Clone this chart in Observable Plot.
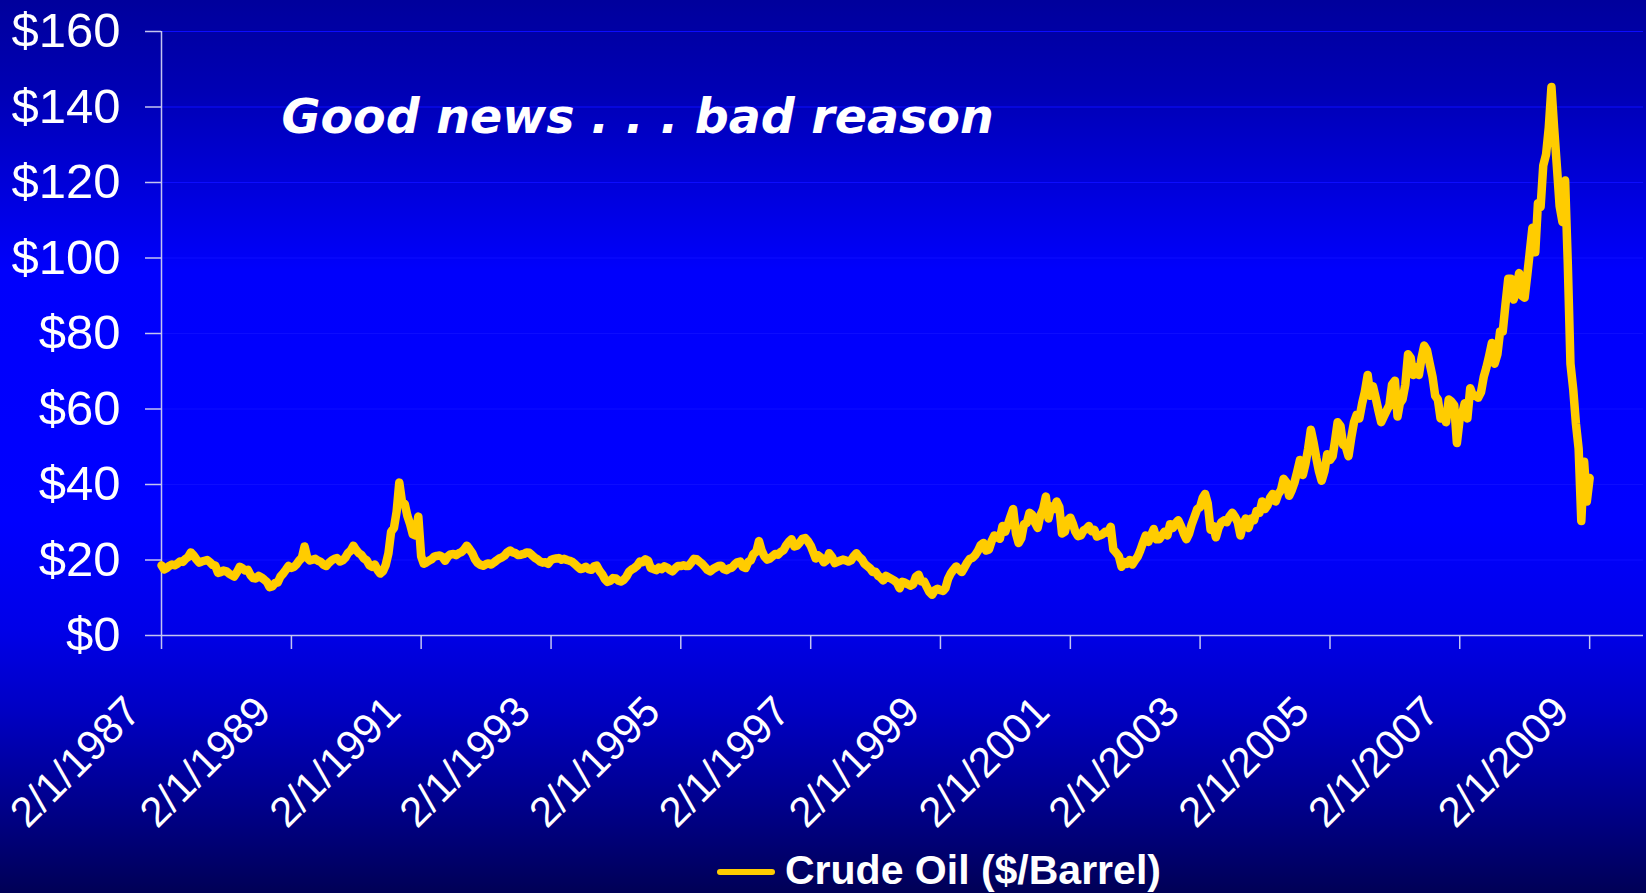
<!DOCTYPE html>
<html>
<head>
<meta charset="utf-8">
<script src="https://cdn.jsdelivr.net/npm/d3@7"></script>
<script src="https://cdn.jsdelivr.net/npm/@observablehq/plot@0.6"></script>
<style>
  html, body { margin: 0; padding: 0; }
  body {
    width: 1646px; height: 893px; overflow: hidden;
    background: linear-gradient(to bottom,
      #00009c 0px, #0000b4 90px, #0000dc 190px, #0000fc 270px,
      #0000ff 520px, #0000e8 630px, #0000c4 710px, #00008e 800px, #000056 893px);
  }
  #chart svg { display: block; }
  #legend { position: relative; width: 1646px; height: 48px; }
  #legend .swatch { position: absolute; left: 717px; top: 24px; width: 58px; height: 6px;
    background: #ffcc00; border-radius: 3px; }
  #legend .label { position: absolute; left: 785px; top: 5px; font: bold 41px/41px "Liberation Sans", Arial, sans-serif;
    color: #ffffff; white-space: nowrap; }
</style>
</head>
<body>
<div id="chart"></div>
<div id="legend"><div class="swatch"></div><div class="label"></div></div>
<script>
// Crude oil spot price, $/barrel, sampled on the 1st and 16th of each month
// starting 1 Feb 1987 and ending 1 Feb 2009.
const firstMonth = { year: 1987, month: 1 }; // February (0-based month)
const prices = [
  // 1987 (from Feb)
  18.6, 17.5, 17.8, 18.4, 18.8, 18.6, 19.0, 19.6, 19.5, 20.3, 20.8, 22.0, 21.2, 20.2, 19.3, 19.6, 19.8, 20.0, 19.4, 18.7, 18.5, 16.6,
  // 1988
  16.8, 17.2, 17.0, 16.4, 16.0, 15.6, 16.8, 18.2, 17.8, 17.2, 17.4, 16.0, 15.2, 15.1, 15.8, 15.4, 14.8, 14.2, 12.8, 13.0, 13.9, 14.0, 15.6, 16.4,
  // 1989
  17.4, 18.4, 17.9, 18.2, 18.8, 19.8, 20.6, 23.6, 20.6, 19.9, 20.1, 20.3, 19.8, 19.5, 18.7, 18.4, 19.3, 19.9, 20.3, 20.5, 19.6, 19.9, 20.6, 21.8,
  // 1990
  22.5, 23.8, 22.6, 21.8, 21.4, 20.4, 19.9, 18.6, 18.2, 18.8, 17.3, 16.4, 17.0, 18.6, 21.8, 27.5, 28.5, 32.8, 40.5, 35.5, 34.8, 31.6, 29.5, 26.8,
  // 1991
  26.5, 31.5, 21.0, 19.0, 19.3, 19.8, 20.2, 20.9, 21.1, 21.2, 20.8, 19.8, 20.9, 21.5, 21.6, 21.3, 21.8, 22.1, 22.8, 23.8, 22.8, 21.8, 20.2, 19.2,
  // 1992
  18.7, 18.5, 18.9, 19.1, 18.8, 19.3, 19.9, 20.4, 20.7, 21.2, 22.1, 22.5, 22.0, 21.8, 21.3, 21.4, 21.6, 22.0, 21.9, 21.3, 20.6, 20.2, 19.6, 19.3,
  // 1993
  19.4, 19.0, 20.0, 20.3, 20.4, 20.5, 20.1, 20.3, 20.0, 19.8, 19.5, 18.9, 18.2, 17.6, 17.8, 18.2, 17.6, 17.4, 18.3, 18.5, 17.1, 16.2, 14.9, 14.2,
  // 1994
  14.5, 15.2, 15.1, 14.5, 14.3, 14.7, 15.6, 16.9, 17.5, 17.9, 18.5, 19.6, 19.4, 20.2, 19.8, 17.9, 17.6, 17.3, 18.0, 17.6, 18.3, 18.0, 17.4, 17.0,
  // 1995
  17.8, 18.4, 18.4, 18.6, 18.4, 18.4, 19.3, 20.3, 20.2, 19.6, 19.0, 18.2, 17.4, 17.0, 17.6, 18.0, 18.4, 18.5, 17.6, 17.3, 17.8, 18.0, 18.8, 19.4,
  // 1996
  19.6, 18.2, 17.9, 19.5, 19.9, 21.6, 22.2, 25.0, 22.5, 21.0, 20.1, 20.4, 21.0, 21.6, 21.4, 22.1, 22.6, 23.9, 24.8, 25.5, 23.6, 23.8, 24.6, 25.6,
  // 1997
  25.8, 25.0, 23.8, 22.0, 20.4, 21.2, 20.6, 19.4, 19.9, 21.8, 20.8, 19.2, 19.5, 19.8, 20.1, 19.9, 19.6, 19.9, 21.0, 21.8, 20.8, 20.2, 19.0, 18.4,
  // 1998
  17.8, 16.8, 16.9, 15.8, 15.4, 14.6, 15.8, 15.4, 15.0, 14.6, 14.0, 12.5, 14.2, 14.0, 13.6, 13.2, 13.6, 15.6, 16.1, 14.3, 14.3, 12.9, 11.5, 10.8,
  // 1999
  12.0, 12.4, 12.0, 11.8, 12.5, 15.0, 16.5, 17.5, 18.3, 17.5, 16.8, 18.0, 19.3, 20.3, 20.6, 21.3, 22.5, 24.0, 24.5, 22.5, 22.8, 25.0, 26.5, 26.0,
  // 2000
  25.6, 29.0, 27.5, 29.5, 31.5, 33.5, 27.0, 24.5, 25.8, 29.5, 29.8, 32.5, 32.0, 30.0, 28.5, 31.8, 33.5, 36.8, 31.0, 34.2, 33.5, 35.5, 34.0, 27.0,
  // 2001
  27.5, 30.5, 31.2, 29.5, 27.5, 26.3, 26.5, 27.8, 28.2, 29.0, 27.6, 28.0, 26.2, 26.5, 26.8, 27.5, 27.2, 28.8, 22.8, 22.0, 21.0, 18.2, 19.5, 19.0,
  // 2002
  20.0, 18.8, 20.0, 21.0, 22.5, 24.5, 26.5, 24.8, 26.5, 28.2, 25.5, 25.5, 26.5, 27.5, 26.5, 29.5, 28.5, 29.7, 30.5, 29.0, 27.0, 25.5, 27.0, 29.5,
  // 2003
  31.5, 33.5, 34.0, 36.5, 37.5, 35.0, 28.0, 29.0, 26.0, 28.5, 30.0, 30.5, 30.0, 31.5, 32.5, 31.5, 30.0, 26.5, 29.5, 31.0, 28.5, 31.0, 30.5, 33.0,
  // 2004
  32.5, 35.5, 33.5, 34.5, 36.5, 37.5, 35.5, 37.5, 38.5, 41.5, 40.5, 37.0, 38.5, 40.5, 43.5, 46.5, 42.5, 45.5, 49.5, 54.5, 51.0, 47.0, 43.5, 41.0,
  // 2005
  43.5, 48.0, 46.5, 47.5, 51.5, 56.5, 55.5, 50.5, 50.0, 47.5, 52.5, 56.5, 58.5, 57.5, 61.5, 64.5, 69.0, 63.5, 66.0, 63.0, 59.5, 56.5, 58.0, 59.5,
  // 2006
  61.0, 66.5, 67.5, 58.0, 61.5, 62.5, 66.5, 74.5, 73.5, 69.0, 71.0, 69.0, 73.5, 76.8, 75.5, 72.0, 68.5, 63.5, 62.5, 57.5, 58.5, 56.5, 62.5, 62.0,
  // 2007
  61.0, 51.0, 57.5, 59.0, 61.5, 57.5, 65.5, 63.5, 63.5, 63.0, 64.5, 68.5, 71.0, 74.0, 77.5, 72.0, 74.5, 80.5, 80.5, 87.5, 94.5, 94.5, 89.0, 91.5,
  // 2008
  96.0, 90.0, 89.5, 95.5, 101.5, 108.0, 101.5, 114.5, 113.5, 124.5, 127.5, 134.5, 145.3, 134.5, 124.0, 113.8, 109.5, 120.5, 98.5, 72.0, 65.0, 56.0, 49.5, 30.3,
  // 2009 (to Feb 1)
  46.0, 35.5, 41.7
];

const yTicks = [0, 20, 40, 60, 80, 100, 120, 140, 160];
const xTickYears = [1987, 1989, 1991, 1993, 1995, 1997, 1999, 2001, 2003, 2005, 2007, 2009];
const xTickLabels = ["2/1/1987", "2/1/1989", "2/1/1991", "2/1/1993", "2/1/1995", "2/1/1997",
                     "2/1/1999", "2/1/2001", "2/1/2003", "2/1/2005", "2/1/2007", "2/1/2009"];
const headline = "Good news . . . bad reason";
const seriesName = "Crude Oil ($/Barrel)";

// Build the dated series: even index = 1st of the month, odd index = 16th.
const series = prices.map((price, i) => ({
  date: new Date(Date.UTC(firstMonth.year, firstMonth.month + Math.floor(i / 2), i % 2 ? 16 : 1)),
  price
}));
const xTickDates = xTickYears.map(y => new Date(Date.UTC(y, 1, 1)));

const axisColor = "#c4c4f0";
const sans = "'Liberation Sans', Arial, sans-serif";

const chart = Plot.plot({
  width: 1646,
  height: 845,
  marginLeft: 161,
  marginRight: 3,
  marginTop: 31,
  marginBottom: 210,
  style: { background: "transparent", overflow: "visible", fontFamily: sans },
  x: { type: "utc", domain: [new Date(Date.UTC(1987, 1, 1)), new Date(Date.UTC(2009, 11, 1))], axis: null },
  y: { domain: [0, 160], axis: null },
  marks: [
    // faint horizontal gridlines
    Plot.ruleY(yTicks.filter(d => d > 0), { stroke: "#0c0cff", strokeWidth: 1.2 }),
    // y axis with dollar labels
    Plot.axisY(yTicks, {
      label: null, tickSize: 16, tickPadding: 25, stroke: axisColor, strokeWidth: 1.5,
      tickFormat: d => "$" + d, fill: "#ffffff", fontSize: 49, fontFamily: sans
    }),
    Plot.ruleX([new Date(Date.UTC(1987, 1, 1))], { y1: 0, y2: 160, stroke: axisColor, strokeWidth: 1.5 }),
    // x axis line and ticks
    Plot.ruleY([0], { stroke: axisColor, strokeWidth: 1.5 }),
    Plot.axisX(xTickDates, { label: null, tickSize: 14, stroke: axisColor, strokeWidth: 1.5, tickFormat: () => "" }),
    // rotated date labels
    Plot.text(xTickDates, {
      x: d => d, text: (d, i) => xTickLabels[i], frameAnchor: "bottom",
      rotate: -45, textAnchor: "end", lineAnchor: "middle", dx: -28, dy: 69,
      fill: "#ffffff", fontSize: 42, fontFamily: sans
    }),
    // price line
    Plot.line(series, {
      x: "date", y: "price", stroke: "#ffcc00", strokeWidth: 8.5,
      strokeLinejoin: "round", strokeLinecap: "round"
    }),
    // headline inside the plot area
    Plot.text([headline], {
      text: d => d, frameAnchor: "top-left", dx: 120, dy: 101, textAnchor: "start", lineAnchor: "bottom",
      fill: "#ffffff", fontSize: 47.5, fontWeight: "bold", fontStyle: "italic",
      fontFamily: "'DejaVu Sans', Verdana, sans-serif"
    })
  ]
});

document.getElementById("chart").appendChild(chart);
document.querySelector("#legend .label").textContent = seriesName;
</script>
</body>
</html>
